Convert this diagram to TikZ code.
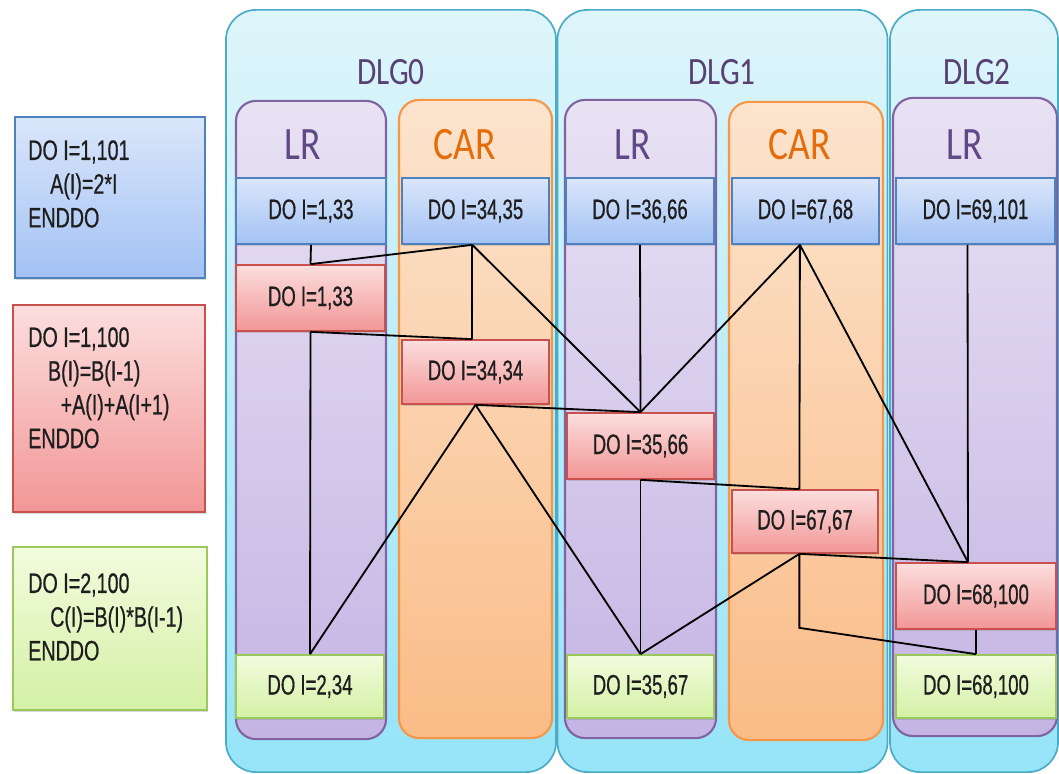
\documentclass[tikz,border=0pt]{standalone}
\usepackage{fontspec}
\newfontfamily\DlgBoxFont[FakeStretch=0.66,FakeBold=0.6]{Liberation Sans}
\newfontfamily\DlgCodeFont[FakeStretch=0.70,FakeBold=0.6]{Liberation Sans}
\newfontfamily\DlgTitleFont[FakeStretch=0.81]{Carlito}
\usetikzlibrary{shadows}
\definecolor{DlgCyanLine}{RGB}{75,172,198}
\definecolor{DlgCyanTop}{RGB}{222,245,250}
\definecolor{DlgCyanBot}{RGB}{150,228,248}
\definecolor{DlgLrLine}{RGB}{128,100,162}
\definecolor{DlgLrTop}{RGB}{232,226,243}
\definecolor{DlgLrBot}{RGB}{196,180,228}
\definecolor{DlgCarLine}{RGB}{247,150,70}
\definecolor{DlgCarTop}{RGB}{252,228,206}
\definecolor{DlgCarBot}{RGB}{250,188,135}
\definecolor{DlgBlueLine}{RGB}{79,129,189}
\definecolor{DlgBlueTop}{RGB}{218,230,250}
\definecolor{DlgBlueBot}{RGB}{163,194,244}
\definecolor{DlgRedLine}{RGB}{200,80,77}
\definecolor{DlgRedTop}{RGB}{252,222,222}
\definecolor{DlgRedBot}{RGB}{242,150,150}
\definecolor{DlgGreenLine}{RGB}{155,200,90}
\definecolor{DlgGreenTop}{RGB}{242,252,222}
\definecolor{DlgGreenBot}{RGB}{212,240,165}
\definecolor{DlgTitle}{RGB}{88,66,115}
\definecolor{DlgLrText}{RGB}{96,72,134}
\definecolor{DlgCarText}{RGB}{228,108,10}
\definecolor{DlgInk}{RGB}{30,30,30}
\tikzset{
  dlg/group/.style={
    rectangle,
    draw=DlgCyanLine,
    line width=1.2pt,
    rounded corners=0.75cm,
    top color=DlgCyanTop,
    bottom color=DlgCyanBot,
    minimum width=8.25cm,
    minimum height=19.05cm
  },
  dlg/lr/.style={
    rectangle,
    draw=DlgLrLine,
    line width=1.5pt,
    rounded corners=0.5cm,
    top color=DlgLrTop,
    bottom color=DlgLrBot,
    minimum height=15.95cm
  },
  dlg/car/.style={
    rectangle,
    draw=DlgCarLine,
    line width=1.5pt,
    rounded corners=0.5cm,
    top color=DlgCarTop,
    bottom color=DlgCarBot,
    minimum height=15.95cm
  },
  dlg/loop/.style={
    rectangle,
    line width=1.2pt,
    inner sep=0pt,
    minimum height=1.65cm,
    text=DlgInk,
    font=\DlgBoxFont\fontsize{20}{24}\selectfont,
    drop shadow={opacity=0.3,shadow xshift=0.6pt,shadow yshift=-1.4pt}
  },
  dlg/blue/.style={dlg/loop, draw=DlgBlueLine, top color=DlgBlueTop, bottom color=DlgBlueBot},
  dlg/red/.style={dlg/loop, draw=DlgRedLine, top color=DlgRedTop, bottom color=DlgRedBot},
  dlg/green/.style={dlg/loop, draw=DlgGreenLine, top color=DlgGreenTop, bottom color=DlgGreenBot},
  dlg/codetext/.style={
    anchor=north west,
    align=left,
    inner sep=0pt,
    text=DlgInk,
    font=\DlgCodeFont\fontsize{20}{24}\selectfont
  },
  dlg/title/.style={font=\DlgTitleFont\fontsize{27.5}{30}\selectfont, text=DlgTitle},
  dlg/lrlabel/.style={font=\DlgTitleFont\fontsize{33}{36}\selectfont, text=DlgLrText},
  dlg/carlabel/.style={font=\DlgTitleFont\fontsize{33}{36}\selectfont, text=DlgCarText},
  dlg/link/.style={draw=black, line width=1.3pt}
}

\begin{document}
\begin{tikzpicture}[x=0.025cm,y=-0.025cm]
  \useasboundingbox (0,0) rectangle (1059,774);
  % loop bodies
  \node[dlg/blue,minimum width=4.75cm,minimum height=4.025cm] (codeA) at (110,197.5) {};
  \node[dlg/red,minimum width=4.8cm,minimum height=5.175cm] (codeB) at (109,408.5) {};
  \node[dlg/green,minimum width=4.85cm,minimum height=4.075cm] (codeC) at (110,628.5) {};
  \node[dlg/codetext] (codeAtxt) at (28,140) {DO I=1,101\\\hspace*{15.6pt}A(I)=2*I\\ENDDO};
  \node[dlg/codetext] (codeBtxt) at (28,327) {DO I=1,100\\\hspace*{14pt}B(I)=B(I-1)\\\hspace*{23pt}+A(I)+A(I+1)\\ENDDO};
  \node[dlg/codetext] (codeCtxt) at (28,573) {DO I=2,100\\\hspace*{15.6pt}C(I)=B(I)*B(I-1)\\ENDDO};

  % groups
  \node[dlg/group] (dlg0) at (391,391) {};
  \node[dlg/group] (dlg1) at (722.5,391) {};
  \node[dlg/group,minimum width=4.2cm] (dlg2) at (974,391) {};
  \node[dlg/title] (dlg0t) at (391,72) {DLG0};
  \node[dlg/title] (dlg1t) at (722,72) {DLG1};
  \node[dlg/title] (dlg2t) at (977,72) {DLG2};

  % columns
  \node[dlg/lr,minimum width=3.75cm] (lr0) at (311,420) {};
  \node[dlg/car,minimum width=3.825cm] (car0) at (475.5,419) {};
  \node[dlg/lr,minimum width=3.775cm] (lr1) at (640.5,419) {};
  \node[dlg/car,minimum width=3.85cm] (car1) at (806,421) {};
  \node[dlg/lr,minimum width=4.1cm] (lr2) at (975,417) {};
  \node[dlg/lrlabel] (lr0t) at (303,145) {LR};
  \node[dlg/carlabel] (car0t) at (465,145) {CAR};
  \node[dlg/lrlabel] (lr1t) at (633,145) {LR};
  \node[dlg/carlabel] (car1t) at (800,145) {CAR};
  \node[dlg/lrlabel] (lr2t) at (965,145) {LR};

  % first loop
  \node[dlg/blue,minimum width=3.75cm] (b0) at (311,211) {DO I=1,33};
  \node[dlg/blue,minimum width=3.675cm] (b1) at (475.5,211) {DO I=34,35};
  \node[dlg/blue,minimum width=3.7cm] (b2) at (640,211) {DO I=36,66};
  \node[dlg/blue,minimum width=3.675cm] (b3) at (805.5,211) {DO I=67,68};
  \node[dlg/blue,minimum width=3.975cm] (b4) at (975.5,211) {DO I=69,101};

  % second loop
  \node[dlg/red,minimum width=3.725cm] (r0) at (310.5,298) {DO I=1,33};
  \node[dlg/red,minimum width=3.675cm,minimum height=1.6cm] (r1) at (475.5,372) {DO I=34,34};
  \node[dlg/red,minimum width=3.675cm] (r2) at (640.5,446) {DO I=35,66};
  \node[dlg/red,minimum width=3.65cm,minimum height=1.575cm] (r3) at (805,521.5) {DO I=67,67};
  \node[dlg/red,minimum width=4cm] (r4) at (976,596) {DO I=68,100};

  % third loop
  \node[dlg/green,minimum width=3.7cm,minimum height=1.575cm] (g0) at (310,686.5) {DO I=2,34};
  \node[dlg/green,minimum width=3.675cm,minimum height=1.575cm] (g1) at (640.5,686.5) {DO I=35,67};
  \node[dlg/green,minimum width=4cm,minimum height=1.575cm] (g2) at (976,686.5) {DO I=68,100};

  % dependences
  \draw[dlg/link] (b0.south) -- (r0.north);
  \draw[dlg/link] (r0.north) -- ([xshift=-0.08cm]b1.south);
  \draw[dlg/link] ([xshift=-0.08cm]b1.south) -- ([xshift=-0.08cm]r1.north);
  \draw[dlg/link] (r0.south) -- ([xshift=-0.08cm]r1.north);
  \draw[dlg/link] (r0.south) -- (g0.north);
  \draw[dlg/link] ([xshift=-0.08cm]b1.south) -- (r2.north);
  \draw[dlg/link] (b2.south) -- (r2.north);
  \draw[dlg/link] ([xshift=-0.14cm]b3.south) -- (r2.north);
  \draw[dlg/link] (r1.south) -- (r2.north);
  \draw[dlg/link] (r1.south) -- (g0.north);
  \draw[dlg/link] (r1.south) -- (g1.north);
  \draw[dlg/link] (r2.south) -- ([xshift=-0.14cm]r3.north);
  \draw[dlg/link] ([xshift=-0.14cm]b3.south) -- ([xshift=-0.14cm]r3.north);
  \draw[dlg/link] (r2.south) -- (g1.north);
  \draw[dlg/link] ([xshift=-0.14cm]b3.south) -- ([xshift=-0.2cm]r4.north);
  \draw[dlg/link] ([xshift=-0.2cm]b4.south) -- ([xshift=-0.2cm]r4.north);
  \draw[dlg/link] ([xshift=-0.14cm]r3.south) -- ([xshift=-0.2cm]r4.north);
  \draw[dlg/link] ([xshift=-0.14cm]r3.south) -- (g1.north);
  \draw[dlg/link] ([xshift=-0.14cm]r3.south) -- ++(0,74) -- (g2.north);
  \draw[dlg/link] (r4.south) -- (g2.north);
\end{tikzpicture}
\end{document}
